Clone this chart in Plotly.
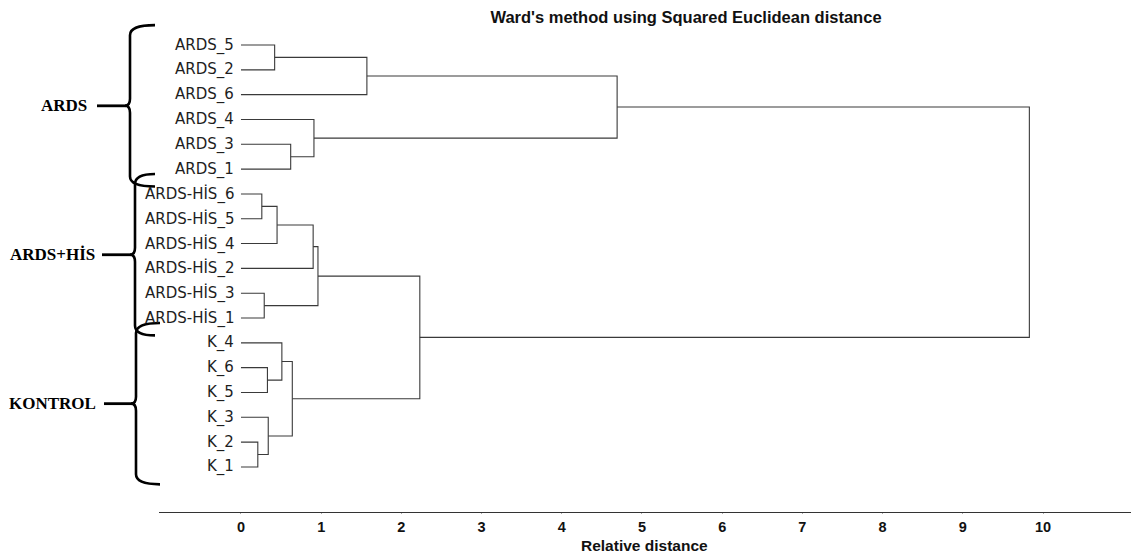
import plotly.graph_objects as go

# ---------------- data ----------------
leaves = ["ARDS_5", "ARDS_2", "ARDS_6", "ARDS_4", "ARDS_3", "ARDS_1",
          "ARDS-HİS_6", "ARDS-HİS_5", "ARDS-HİS_4", "ARDS-HİS_2", "ARDS-HİS_3", "ARDS-HİS_1",
          "K_4", "K_6", "K_5", "K_3", "K_2", "K_1"]

merge_left = ["ARDS_5", "c1", "ARDS_3", "ARDS_4", "c2",
              "ARDS-HİS_6", "c6", "c7", "ARDS-HİS_3", "c8",
              "K_6", "K_4", "K_2", "K_3", "c12", "c10", "c5"]
merge_right = ["ARDS_2", "ARDS_6", "ARDS_1", "c3", "c4",
               "ARDS-HİS_5", "ARDS-HİS_4", "ARDS-HİS_2", "ARDS-HİS_1", "c9",
               "K_5", "c11", "K_1", "c13", "c14", "c15", "c16"]
merge_height = [0.42, 1.57, 0.62, 0.91, 4.69,
                0.26, 0.45, 0.90, 0.29, 0.96,
                0.33, 0.51, 0.21, 0.34, 0.64, 2.23, 9.83]

groups = ["ARDS", "ARDS+HİS", "KONTROL"]
group_first = ["ARDS_5", "ARDS-HİS_6", "K_4"]
group_last = ["ARDS_1", "ARDS-HİS_1", "K_1"]

x_ticks = list(range(0, 11))
title_text = "Ward's method using Squared Euclidean distance"
x_title = "Relative distance"

# ---------------- layout geometry ----------------
# the page body has an 8px margin, so the figure is drawn 8px in from the corner
OFF = 8
W, H = 1139 - OFF, 558 - OFF
ML, MR, MT, MB = 151, 0, 0, 46
PW, PH = W - ML - MR, H - MT - MB
X_RANGE = [-1.022, 11.197]
Y_RANGE = [18.815, -1.491]  # reversed: leaf 0 at top


def y_to_pix(v):
    """data y (leaf index) -> page pixel y"""
    return OFF + MT + (v - Y_RANGE[1]) / (Y_RANGE[0] - Y_RANGE[1]) * PH


def px_to_paper_x(px):
    return (px - OFF - ML) / PW


def py_to_paper_y(py):
    return 1 - (py - OFF - MT) / PH


# ---------------- dendrogram geometry ----------------
pos = {name: (0.0, float(i)) for i, name in enumerate(leaves)}
xs, ys = [], []
for k, (a, b, h) in enumerate(zip(merge_left, merge_right, merge_height), start=1):
    xa, ya = pos[a]
    xb, yb = pos[b]
    xs += [xa, h, h, xb, None]
    ys += [ya, ya, yb, yb, None]
    pos["c%d" % k] = (h, (ya + yb) / 2)

fig = go.Figure()
fig.add_trace(go.Scatter(x=xs, y=ys, mode="lines",
                         line=dict(color="#3a3a3a", width=1.1),
                         hoverinfo="skip", showlegend=False, cliponaxis=False))

# leaf labels
for i, name in enumerate(leaves):
    fig.add_annotation(x=0, y=i, xref="x", yref="y", text=name, showarrow=False,
                       xanchor="right", yanchor="middle", xshift=-5,
                       font=dict(family="DejaVu Sans", size=15, color="#1e1e1e"))

# group braces and labels
brace_xv = [130, 135, 136]
brace_xe = [155, 155, 160]
stem_x0 = [97, 102, 104]
label_xr = [89, 97, 98]
for g, f, l, xv, xe, sx, lx in zip(groups, group_first, group_last, brace_xv, brace_xe, stem_x0, label_xr):
    i0 = leaves.index(f) - 0.8
    i1 = leaves.index(l) + 0.7
    yt, yb = y_to_pix(i0), y_to_pix(i1)
    ym = (yt + yb) / 2
    pts = [
        ("M", [(xe, yt)]),
        ("Q", [(xv, yt), (xv, yt + 10)]),
        ("L", [(xv, ym - 7)]),
        ("Q", [(xv, ym), (xv - 5, ym)]),
        ("Q", [(xv, ym), (xv, ym + 7)]),
        ("L", [(xv, yb - 10)]),
        ("Q", [(xv, yb), (xe, yb)]),
    ]
    path = " ".join(cmd + " " + " ".join("%.5f,%.5f" % (px_to_paper_x(px), py_to_paper_y(py)) for px, py in p)
                    for cmd, p in pts)
    fig.add_shape(type="path", path=path, xref="paper", yref="paper",
                  line=dict(color="black", width=2.6))
    fig.add_shape(type="line", xref="paper", yref="paper",
                  x0=px_to_paper_x(sx), x1=px_to_paper_x(xv - 4),
                  y0=py_to_paper_y(ym), y1=py_to_paper_y(ym),
                  line=dict(color="black", width=2.8))
    fig.add_annotation(x=px_to_paper_x(lx), y=py_to_paper_y(ym), xref="paper", yref="paper",
                       text="<b>%s</b>" % g, showarrow=False, xanchor="right", yanchor="middle",
                       font=dict(family="Liberation Serif", size=17, color="black"))

# axis title
fig.add_annotation(x=px_to_paper_x(644), y=py_to_paper_y(545), xref="paper", yref="paper",
                   text="<b>%s</b>" % x_title, showarrow=False, xanchor="center", yanchor="middle",
                   font=dict(family="Liberation Sans", size=15.5, color="#111"))

fig.update_layout(
    width=W, height=H,
    margin=dict(l=ML, r=MR, t=MT, b=MB),
    paper_bgcolor="white", plot_bgcolor="white",
    title=dict(text="<b>%s</b>" % title_text, x=(686 - OFF) / W, xanchor="center",
               y=1 - 9 / H, yanchor="middle", xref="container", yref="container",
               font=dict(family="Liberation Sans", size=16.5, color="#111")),
    xaxis=dict(range=X_RANGE, tickvals=x_ticks, ticktext=["<b>%d</b>" % t for t in x_ticks],
               showgrid=False, zeroline=False, showline=True, linecolor="#333", linewidth=1.2,
               ticks="outside", ticklen=1, tickcolor="#aaa",
               tickfont=dict(family="Liberation Sans", size=14.5, color="#111")),
    yaxis=dict(range=Y_RANGE, showgrid=False, zeroline=False, showline=False,
               showticklabels=False, ticks=""),
    showlegend=False,
)

fig.write_html("out.html")
